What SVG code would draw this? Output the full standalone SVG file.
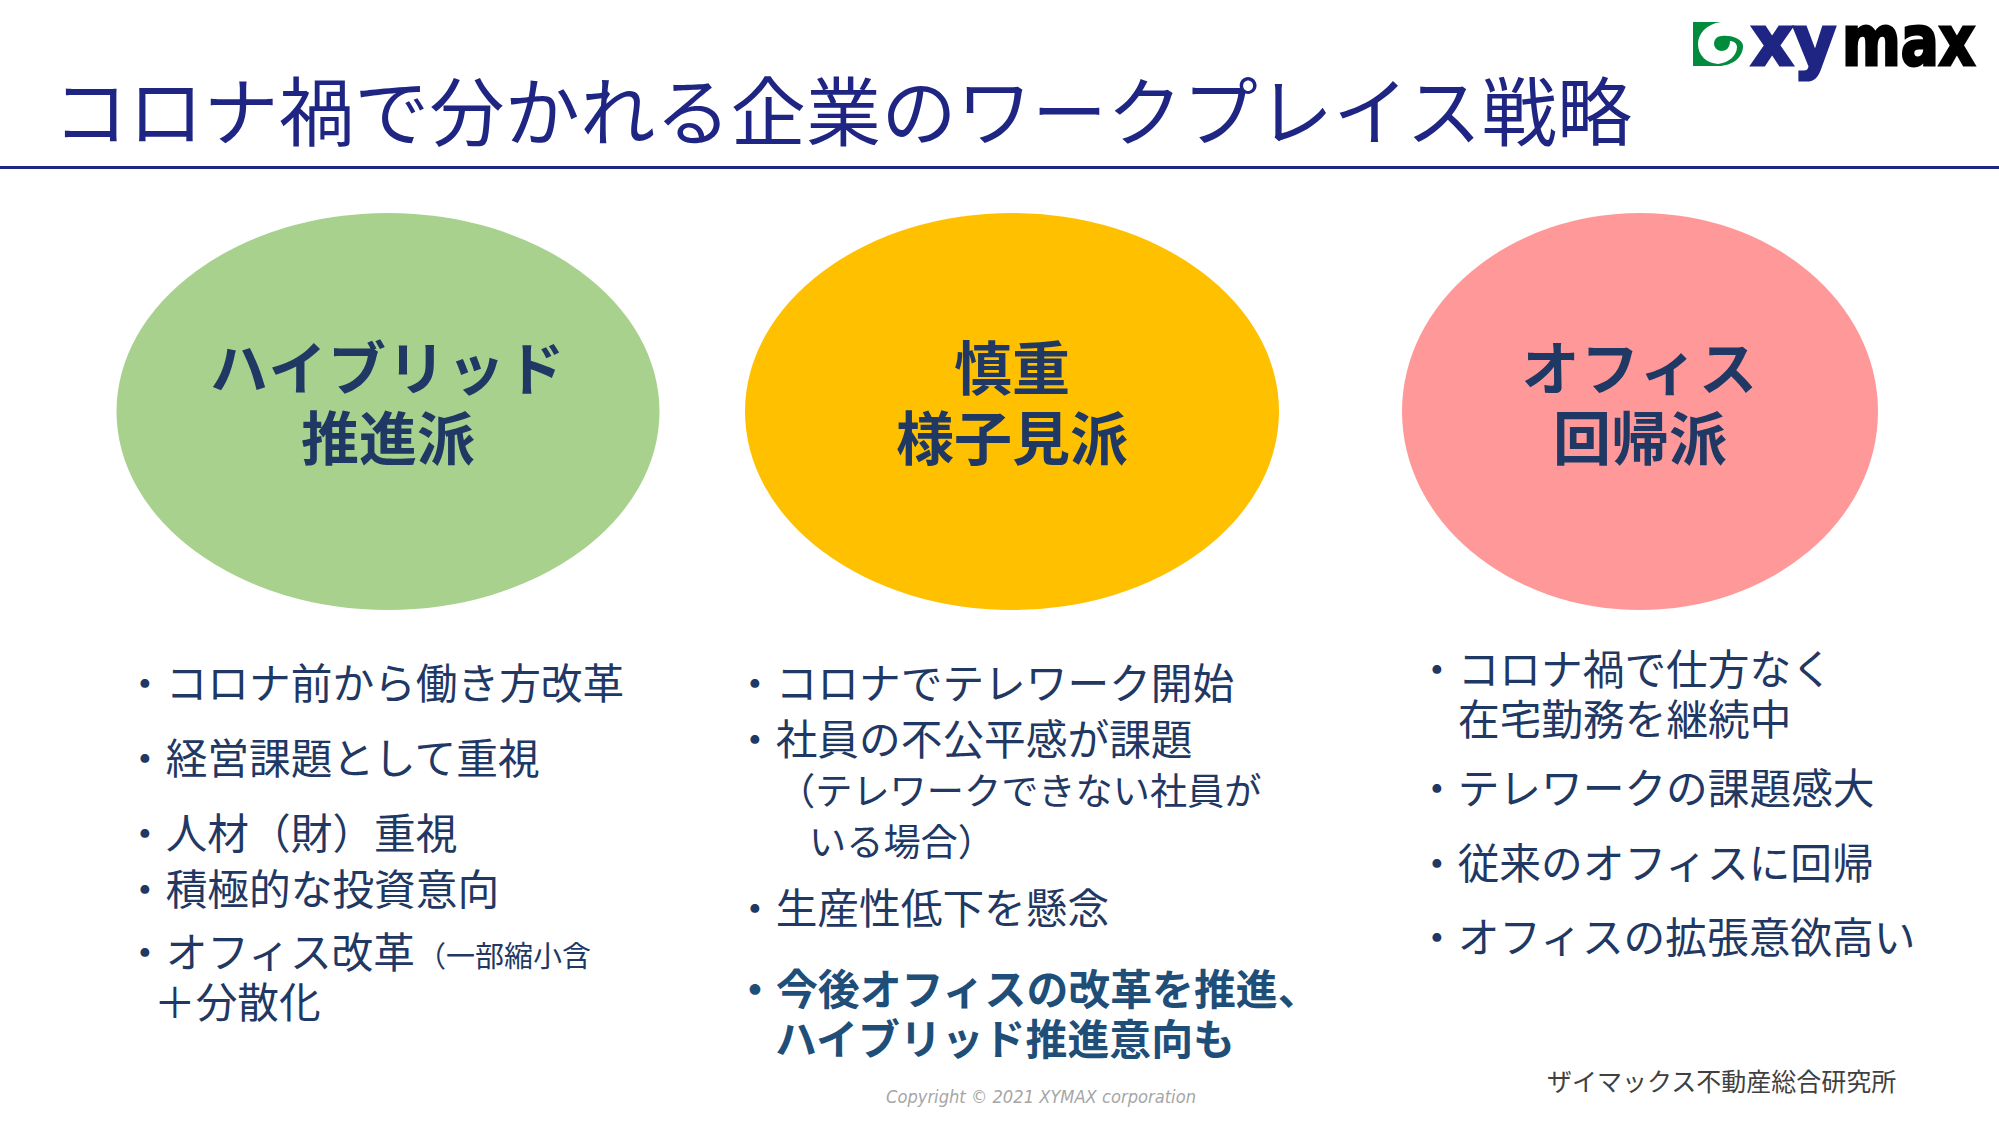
<svg xmlns="http://www.w3.org/2000/svg" width="1999" height="1125" viewBox="0 0 1999 1125">
<style>
text{font-family:"Noto Sans CJK JP","Noto Sans",sans-serif;white-space:pre}
.t{font-size:75px;fill:#1f2583}
.h{font-size:58px;font-weight:700;fill:#1f3864;text-anchor:middle}
.ka{letter-spacing:1.5px}
.b{font-size:41.7px;fill:#1f3864}
.s{font-size:37.2px;fill:#1f3864}
.m{font-size:29px;fill:#1f3864}
.k{font-size:41.9px;font-weight:700;fill:#1f4e79}
.lg{font-family:"DejaVu Sans",sans-serif;font-weight:700;font-size:70px;stroke-width:3;stroke-linejoin:miter}
</style>
<rect width="1999" height="1125" fill="#fff"/>
<g id="title">
<text class="t" x="53" y="140" textLength="1579">コロナ禍で分かれる企業のワークプレイス戦略</text>
<rect x="0" y="166" width="1999" height="3" fill="#1f2583"/>
</g>
<g id="logo">
<path d="M1693 22H1721C1706 24 1698 34 1698 44C1698 56 1707 63 1718 64L1723 66H1693Z" fill="#008c3c"/>
<path d="M1722 36C1733 35 1743 40 1743 46C1743 57 1733 66 1718 66L1718 64C1728 63 1737 56 1737 47C1737 43 1733 41 1730 41C1730 48 1726 51 1721 51A7.5 7.5 0 0 1 1722 36Z" fill="#008c3c"/>
<text class="lg" x="1751" y="65" textLength="85" lengthAdjust="spacingAndGlyphs" fill="#1f2583" stroke="#1f2583">xy</text>
<text class="lg" x="1842" y="65" textLength="133" lengthAdjust="spacingAndGlyphs" fill="#000" stroke="#000">max</text>
</g>
<g id="node-hybrid">
<ellipse cx="388" cy="411.5" rx="271.5" ry="198.5" fill="#a9d18e"/>
<text class="h ka" x="388" y="390">ハイブリッド</text>
<text class="h" x="388" y="460">推進派</text>
</g>
<g id="node-cautious">
<ellipse cx="1012" cy="411.5" rx="267" ry="198.5" fill="#ffc000"/>
<text class="h" x="1012" y="390">慎重</text>
<text class="h" x="1012" y="460">様子見派</text>
</g>
<g id="node-return">
<ellipse cx="1640" cy="411.5" rx="238" ry="198.5" fill="#ff9999"/>
<text class="h ka" x="1640" y="390">オフィス</text>
<text class="h" x="1640" y="460">回帰派</text>
</g>
<g id="list-hybrid">
<text class="b" x="124" y="699">・コロナ前から働き方改革</text>
<text class="b" x="124" y="774">・経営課題として重視</text>
<text class="b" x="124" y="849">・人材（財）重視</text>
<text class="b" x="124" y="905">・積極的な投資意向</text>
<text class="b" x="124" y="968">・オフィス改革</text>
<text class="m" x="417" y="967">（一部縮小含</text>
<text class="b" x="154" y="1018">＋分散化</text>
</g>
<g id="list-cautious">
<text class="b" x="734" y="699">・コロナでテレワーク開始</text>
<text class="b" x="734" y="755">・社員の不公平感が課題</text>
<text class="s" x="778" y="805">（テレワークできない社員が</text>
<text class="s" x="809" y="856">いる場合）</text>
<text class="b" x="734" y="924">・生産性低下を懸念</text>
<text class="k" x="734" y="1005">・今後オフィスの改革を推進、</text>
<text class="k" x="775" y="1055">ハイブリッド推進意向も</text>
</g>
<g id="list-return">
<text class="b" x="1416" y="685">・コロナ禍で仕方なく</text>
<text class="b" x="1458" y="735">在宅勤務を継続中</text>
<text class="b" x="1416" y="804">・テレワークの課題感大</text>
<text class="b" x="1416" y="879">・従来のオフィスに回帰</text>
<text class="b" x="1416" y="953">・オフィスの拡張意欲高い</text>
</g>
<g id="footer">
<text x="1547" y="1091" font-size="25" fill="#404040">ザイマックス不動産総合研究所</text>
<text x="886" y="1103" font-size="18" font-style="italic" fill="#a6a6a6" style="font-family:'DejaVu Sans',sans-serif" textLength="310" lengthAdjust="spacingAndGlyphs">Copyright © 2021 XYMAX corporation</text>
</g>
</svg>
